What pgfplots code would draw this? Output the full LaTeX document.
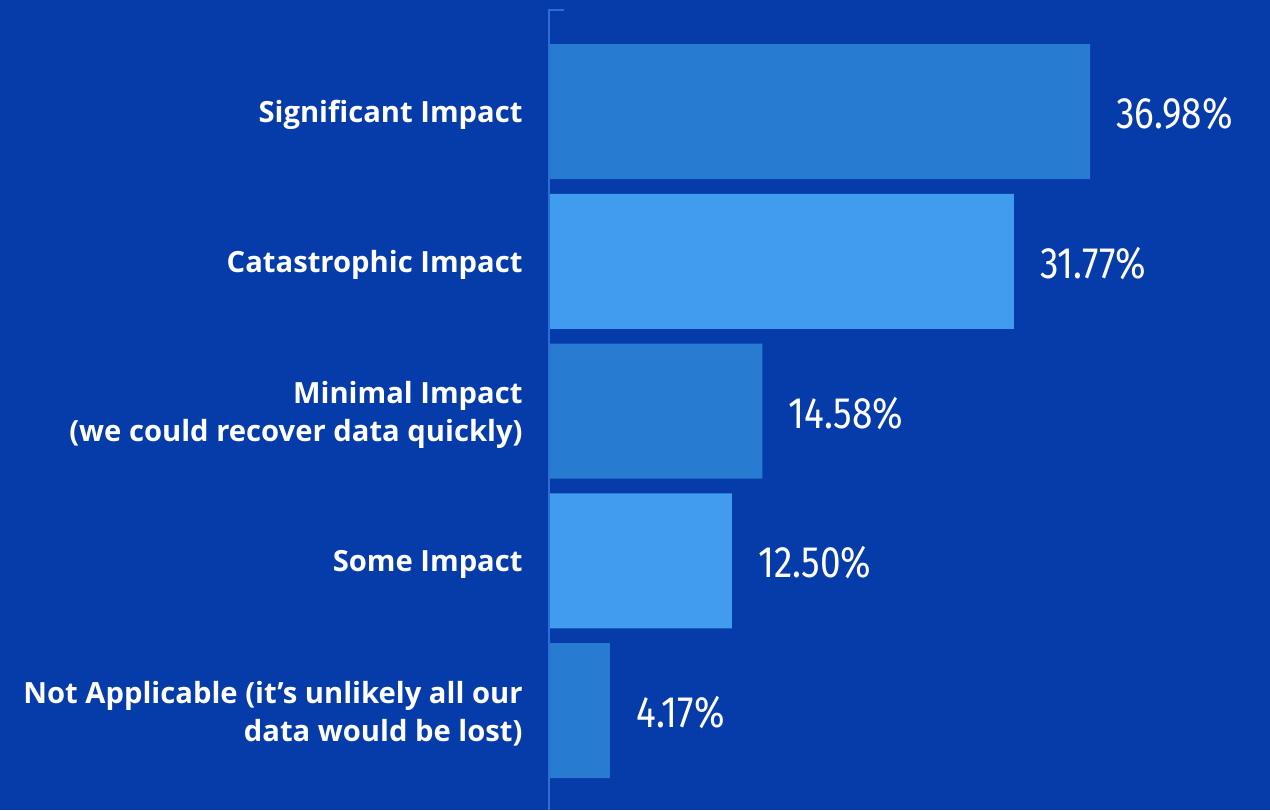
\documentclass[border=0pt]{standalone}
\usepackage{pgfplots}
\pgfplotsset{compat=1.18}
\usepackage{fontspec}
\setmainfont{Open Sans}
\newfontfamily\labfont{Open Sans}[BoldFont=* Bold]
\newfontfamily\valfont{Fira Sans}[FakeStretch=0.84]
\definecolor{bgcol}{RGB}{6,59,170}
\definecolor{bardark}{RGB}{39,124,210}
\definecolor{barlight}{RGB}{65,155,238}
\definecolor{axcol}{RGB}{43,111,211}
\begin{document}
\begin{tikzpicture}
\fill[bgcol] (0,0) rectangle (635pt,405pt);
\begin{axis}[
  at={(0,0)}, anchor=south west,
  scale only axis, width=635pt, height=405pt,
  hide axis, clip=false,
  xbar, bar width=0.9015,
  xmin=-37.52, xmax=49.28,
  ymin=-0.7446, ymax=4.664,
  y dir=reverse,
  nodes near coords={\valfont\fontsize{22}{26}\selectfont\pgfmathprintnumber[fixed,fixed zerofill,precision=2]{\pgfplotspointmeta}\%},
  every node near coord/.append style={anchor=west, inner sep=0pt, xshift=13pt, yshift=-1pt, text=white},
  /pgf/number format/assume math mode=true,
]
\addplot[draw=none, fill=bardark, bar shift=0pt] coordinates {(36.98,0) (14.58,2) (4.17,4)};
\addplot[draw=none, fill=barlight, bar shift=0pt] coordinates {(31.77,1) (12.50,3)};
\draw[axcol, line width=0.8pt] (axis cs:0,4.664) -- (axis cs:0,-0.678) -- (axis cs:1,-0.678);
\tikzset{lab/.style={anchor=east, align=right, inner sep=0pt, xshift=-13pt, yshift=-1.7pt, text=white, font=\labfont\bfseries\fontsize{14.6}{19}\selectfont}}
\node[lab] at (axis cs:0,0) {Significant Impact};
\node[lab] at (axis cs:0,1) {Catastrophic Impact};
\node[lab] at (axis cs:0,2) {Minimal Impact\\(we could recover data quickly)};
\node[lab] at (axis cs:0,3) {Some Impact};
\node[lab] at (axis cs:0,4) {Not Applicable (it’s unlikely all our\\data would be lost)};
\end{axis}
\end{tikzpicture}
\end{document}
